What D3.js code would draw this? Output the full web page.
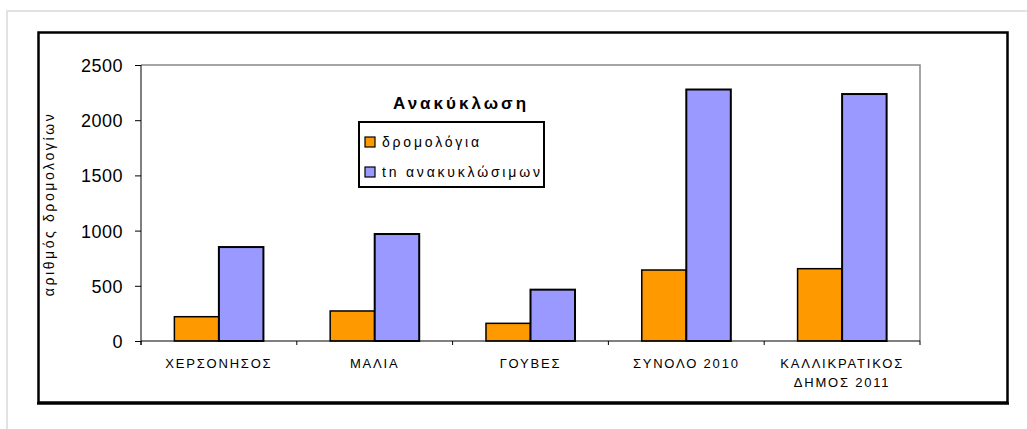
<!DOCTYPE html>
<html>
<head>
	<meta charset="utf-8">
	<title></title>
	<style>
		body { margin: 0; background: #fff; }
		text { font-family: "Liberation Sans", Arial, sans-serif; fill: #000; }
	</style>
</head>
<body>
	<svg id="container" width="1027" height="429"></svg>
</body>
<script src="https://d3js.org/d3.v7.min.js"></script>
<script>
	// values
	let categories = ["ΧΕΡΣΟΝΗΣΟΣ", "ΜΑΛΙΑ", "ΓΟΥΒΕΣ", "ΣΥΝΟΛΟ 2010", "ΚΑΛΛΙΚΡΑΤΙΚΟΣ\nΔΗΜΟΣ 2011"]
	let routes = [220, 272, 160, 643, 655]
	let recyclables = [851, 969, 465, 2278, 2237]
	let seriesNames = ["δρομολόγια", "tn ανακυκλώσιμων"]
	let yTicks = [0, 500, 1000, 1500, 2000, 2500]
	let legendTitle = "Ανακύκλωση"
	let yTitle = "αριθμός δρομολογίων"

	let svg = d3.select("#container")

	// outer light frame and black chart frame
	svg.append("rect").attr("x", 7).attr("y", 11).attr("width", 1100).attr("height", 500)
		.attr("fill", "none").attr("stroke", "#e2e2e2").attr("stroke-width", 2)
	svg.append("rect").attr("x", 38.5).attr("y", 32.5).attr("width", 969).attr("height", 370)
		.attr("fill", "#fff").attr("stroke", "#000").attr("stroke-width", 2.5)
	svg.append("line").attr("x1", 37).attr("x2", 1009).attr("y1", 403.5).attr("y2", 403.5)
		.attr("stroke", "#000").attr("stroke-width", 2.5)

	let plotL = 141, plotR = 920, plotT = 65, plotB = 341

	let x = d3.scaleBand().domain(categories).range([plotL, plotR]).paddingInner(0).paddingOuter(0)
	let y = d3.scaleLinear().domain([0, 2500]).range([plotB, plotT])
	let barW = x.bandwidth() / 3.5

	// gray plot border (top + right)
	svg.append("path")
		.attr("d", `M${plotL},${plotT}H${plotR}V${plotB}`)
		.attr("fill", "none").attr("stroke", "#888").attr("stroke-width", 1.5)

	let body = svg.append("g")

	body.selectAll("rect.routes")
		.data(routes)
		.enter().append("rect")
		.attr("class", "routes")
		.attr("x", (d, i) => x(categories[i]) + x.bandwidth() / 2 - barW)
		.attr("y", d => y(d))
		.attr("width", barW)
		.attr("height", d => y(0) - y(d))
		.attr("fill", "#ff9900")
		.attr("stroke", "#000").attr("stroke-width", 1.5)

	body.selectAll("rect.recyc")
		.data(recyclables)
		.enter().append("rect")
		.attr("class", "recyc")
		.attr("x", (d, i) => x(categories[i]) + x.bandwidth() / 2)
		.attr("y", d => y(d))
		.attr("width", barW)
		.attr("height", d => y(0) - y(d))
		.attr("fill", "#9999ff")
		.attr("stroke", "#000").attr("stroke-width", 2)

	// y axis
	let yAxis = svg.append("g")
		.attr("transform", `translate(${plotL},0)`)
		.call(d3.axisLeft(y).tickValues(yTicks).tickFormat(d3.format("d"))
			.tickSize(6).tickSizeOuter(0).tickPadding(12))
	yAxis.select(".domain").remove()
	yAxis.selectAll("line").attr("stroke", "#000")
	yAxis.selectAll("text")
		.style("font-size", "18px")
		.style("letter-spacing", "0.5px")
		.attr("dy", "0.36em")
	svg.append("line").attr("x1", plotL).attr("x2", plotL).attr("y1", plotT).attr("y2", plotB + 4)
		.attr("stroke", "#000")

	// x axis
	svg.append("line").attr("x1", plotL).attr("x2", plotR).attr("y1", plotB).attr("y2", plotB)
		.attr("stroke", "#000")
	let bounds = categories.map(c => x(c)).concat([plotR])
	svg.selectAll("line.xtick")
		.data(bounds)
		.enter().append("line")
		.attr("class", "xtick")
		.attr("x1", d => d).attr("x2", d => d)
		.attr("y1", plotB).attr("y2", plotB + 4)
		.attr("stroke", "#000")

	let xl = svg.selectAll("text.xlab")
		.data(categories)
		.enter().append("text")
		.attr("class", "xlab")
		.attr("text-anchor", "middle")
		.attr("y", 368)
		.style("font-size", "13px")
		.style("letter-spacing", "1.8px")
	xl.selectAll("tspan")
		.data(d => d.split("\n").map(s => ({ s: s, c: d })))
		.enter().append("tspan")
		.attr("x", d => x(d.c) + x.bandwidth() / 2)
		.attr("dy", (d, i) => i ? 19 : 0)
		.text(d => d.s)

	// y title
	svg.append("text")
		.attr("transform", "translate(54,204) rotate(-90)")
		.attr("text-anchor", "middle")
		.style("font-size", "14px")
		.style("letter-spacing", "2.6px")
		.text(yTitle)

	// legend
	svg.append("text")
		.attr("x", 461).attr("y", 109)
		.attr("text-anchor", "middle")
		.style("font-size", "17px").style("font-weight", "bold")
		.style("letter-spacing", "3px")
		.text(legendTitle)

	svg.append("rect").attr("x", 359).attr("y", 122).attr("width", 185).attr("height", 65)
		.attr("fill", "#fff").attr("stroke", "#000").attr("stroke-width", 2)

	let colors = ["#ff9900", "#9999ff"]
	let leg = svg.selectAll("g.leg")
		.data(seriesNames)
		.enter().append("g")
		.attr("class", "leg")
		.attr("transform", (d, i) => `translate(365,${137 + i * 30})`)
	leg.append("rect").attr("width", 10).attr("height", 10)
		.attr("fill", (d, i) => colors[i]).attr("stroke", "#000").attr("stroke-width", 1.2)
	leg.append("text")
		.attr("x", 17).attr("y", 10)
		.style("font-size", "14px")
		.style("letter-spacing", "2.8px")
		.text(d => d)
</script>
</html>
